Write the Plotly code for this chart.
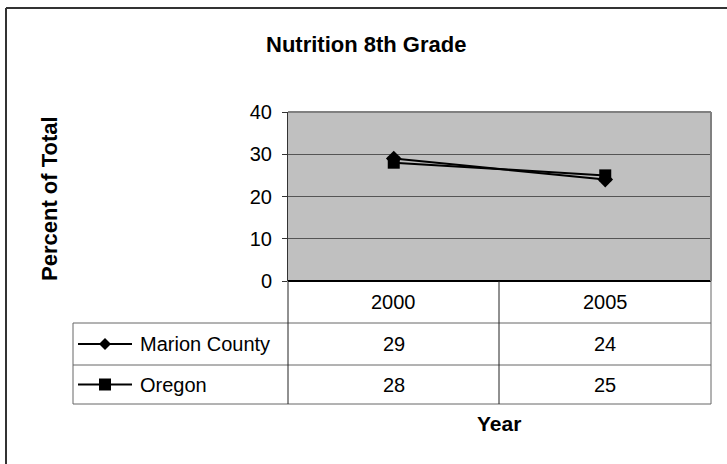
import plotly.graph_objects as go

# ---- data ----
years = ["2000", "2005"]
series_names = ["Marion County", "Oregon"]
marion = [29, 24]
oregon = [28, 25]
symbols = ["diamond", "square"]
y_ticks = [0, 10, 20, 30, 40]

W, H = 727, 464
FONT = "Liberation Sans, Arial, sans-serif"


def X(px):
    return px / W


def Y(py):
    return 1 - py / H


# plot area in pixels
PL, PR, PT, PB = 288, 711, 112, 281
# table rows
ROW_HDR_B, ROW1_B, ROW2_B = 323, 365, 404
TBL_L = 73
COL_MID = 499

fig = go.Figure()
xpos = list(range(len(years)))
for name, vals, sym in zip(series_names, [marion, oregon], symbols):
    fig.add_trace(go.Scatter(
        x=xpos, y=vals, name=name, mode="lines+markers",
        line=dict(color="black", width=2),
        marker=dict(symbol=sym, size=12, color="black"),
        showlegend=False, cliponaxis=False))

shapes = []
# outer frame (cropped on right/bottom)
shapes.append(dict(type="line", xref="paper", yref="paper", x0=X(6), x1=X(740), y0=Y(8), y1=Y(8),
                   line=dict(color="#333333", width=2)))
shapes.append(dict(type="line", xref="paper", yref="paper", x0=X(6), x1=X(6), y0=Y(8), y1=Y(480),
                   line=dict(color="#333333", width=2)))
# plot area border top/right
shapes.append(dict(type="line", xref="paper", yref="paper", x0=X(PL), x1=X(PR), y0=Y(PT), y1=Y(PT),
                   line=dict(color="#808080", width=2)))
shapes.append(dict(type="line", xref="paper", yref="paper", x0=X(PR), x1=X(PR), y0=Y(PT), y1=Y(PB),
                   line=dict(color="#808080", width=2)))

hl = dict(color="#666666", width=1)
vl = dict(color="#222222", width=1)
# table horizontal lines
for py in [ROW_HDR_B, ROW1_B, ROW2_B]:
    shapes.append(dict(type="line", xref="paper", yref="paper", x0=X(TBL_L), x1=X(PR), y0=Y(py), y1=Y(py), line=hl))
# table vertical lines
shapes.append(dict(type="line", xref="paper", yref="paper", x0=X(TBL_L), x1=X(TBL_L), y0=Y(ROW_HDR_B), y1=Y(ROW2_B), line=hl))
for px in [PL, COL_MID]:
    shapes.append(dict(type="line", xref="paper", yref="paper", x0=X(px), x1=X(px), y0=Y(PB), y1=Y(ROW2_B), line=vl))
shapes.append(dict(type="line", xref="paper", yref="paper", x0=X(PR), x1=X(PR), y0=Y(PB), y1=Y(ROW2_B), line=hl))


def ann(text, px, py, size, xanchor="center", angle=0):
    return dict(text=text, x=X(px), y=Y(py), xref="paper", yref="paper", showarrow=False,
                xanchor=xanchor, yanchor="middle", textangle=angle,
                font=dict(size=size, family=FONT, color="black"))


annotations = [
    ann("<b>Nutrition 8th Grade</b>", 366, 44, 22),
    ann("<b>Percent of Total</b>", 49, 199, 22, angle=-90),
    ann("<b>Year</b>", COL_MID, 423, 21),
]

col_centers = [(PL + COL_MID) / 2, (COL_MID + PR) / 2]
for cx, yr in zip(col_centers, years):
    annotations.append(ann(yr, cx, (PB + ROW_HDR_B) / 2, 20))
row_bounds = [(ROW_HDR_B, ROW1_B), (ROW1_B, ROW2_B)]
for (rt, rb), name, vals, sym in zip(row_bounds, series_names, [marion, oregon], symbols):
    cy = (rt + rb) / 2
    for cx, v in zip(col_centers, vals):
        annotations.append(ann(str(v), cx, cy, 20))
    annotations.append(ann(name, 138, cy, 20, xanchor="left"))
    # legend key
    shapes.append(dict(type="line", xref="paper", yref="paper", x0=X(78), x1=X(132), y0=Y(cy), y1=Y(cy),
                       line=dict(color="black", width=2)))
    kx, r = 105, 6
    if sym == "diamond":
        path = f"M {X(kx-r)},{Y(cy)} L {X(kx)},{Y(cy-r)} L {X(kx+r)},{Y(cy)} L {X(kx)},{Y(cy+r)} Z"
    else:
        path = f"M {X(kx-r)},{Y(cy-r)} L {X(kx+r)},{Y(cy-r)} L {X(kx+r)},{Y(cy+r)} L {X(kx-r)},{Y(cy+r)} Z"
    shapes.append(dict(type="path", xref="paper", yref="paper", path=path,
                       fillcolor="black", line=dict(color="black", width=0)))

fig.update_layout(
    width=W, height=H, autosize=False,
    margin=dict(l=0, r=0, t=0, b=0, pad=0),
    paper_bgcolor="white", plot_bgcolor="#C0C0C0",
    showlegend=False,
    shapes=shapes, annotations=annotations,
    xaxis=dict(domain=[X(PL), X(PR)], range=[-0.5, len(years) - 0.5], showticklabels=False,
               showgrid=False, zeroline=False, ticks="", showline=False, fixedrange=True,
               automargin=False),
    yaxis=dict(domain=[Y(PB), Y(PT)], range=[0, 40], tickvals=y_ticks, ticks="outside", ticklen=5,
               ticklabelstandoff=6,
               tickcolor="#333333", tickfont=dict(size=20, family=FONT, color="black"),
               showgrid=True, gridcolor="#555555", gridwidth=1,
               zeroline=True, zerolinecolor="black", zerolinewidth=2,
               showline=True, linecolor="#333333", linewidth=1, fixedrange=True,
               automargin=False),
)

fig.write_html("out.html", config={"displayModeBar": False},
               post_script="document.body.style.margin='0';document.body.style.overflow='hidden';")
